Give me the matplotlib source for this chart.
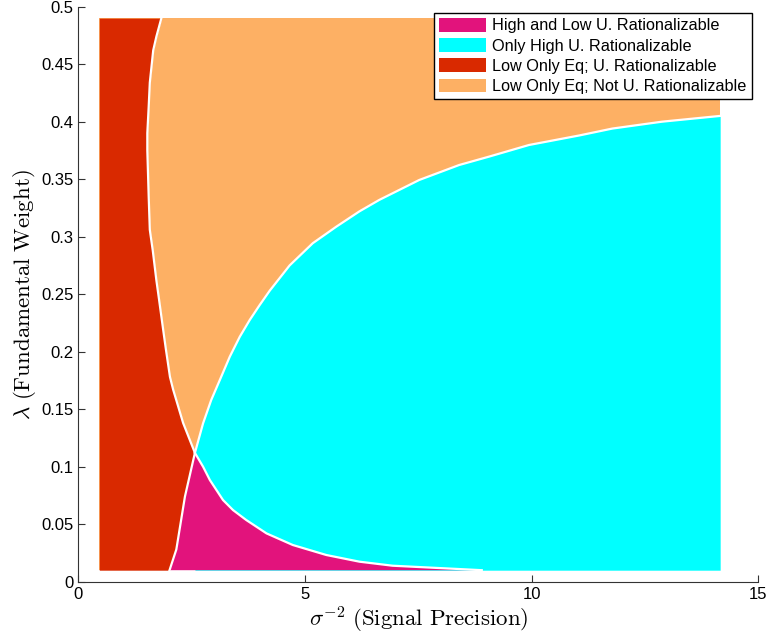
import matplotlib
matplotlib.use('Agg')
import matplotlib.pyplot as plt
from matplotlib.patches import Patch
import numpy as np

plt.rcParams['font.family'] = ['Liberation Sans', 'DejaVu Sans']
plt.rcParams['mathtext.fontset'] = 'cm'

# extent of the computed grid
x_min, x_max = 0.46, 14.16
y_min, y_max = 0.01, 0.49

# boundary of the red region (x as a function of lambda), top to bottom
red_y = [0.49, 0.474, 0.462, 0.434, 0.413, 0.39, 0.375, 0.335, 0.306, 0.288, 0.262, 0.245,
         0.219, 0.202, 0.178, 0.167, 0.138, 0.112, 0.074, 0.028, 0.01]
red_x = [1.83, 1.72, 1.65, 1.575, 1.55, 1.52, 1.52, 1.55, 1.575, 1.64, 1.72, 1.78,
         1.87, 1.93, 2.02, 2.09, 2.31, 2.57, 2.35, 2.16, 2.01]

# upper boundary of the cyan region
cyan_x = [2.57, 2.75, 2.93, 3.12, 3.34, 3.56, 3.78, 4.0, 4.22, 4.66, 5.17, 5.69, 6.2, 6.64, 7.52,
          8.40, 9.06, 9.94, 11.05, 11.78, 12.88, 14.16]
cyan_y = [0.112, 0.1377, 0.158, 0.1754, 0.1957, 0.213, 0.2276, 0.2406, 0.253, 0.275, 0.2943, 0.3087,
          0.322, 0.332, 0.3493, 0.3623, 0.3696, 0.3797, 0.388, 0.394, 0.400, 0.405]

# magenta / cyan boundary
mag_x = [2.57, 2.75, 2.90, 3.19, 3.41, 3.70, 4.15, 4.73, 5.47, 6.20, 6.93, 8.40, 8.9]
mag_y = [0.112, 0.1, 0.0884, 0.071, 0.0623, 0.0537, 0.042, 0.0319, 0.0232, 0.0174, 0.0139, 0.011, 0.01]

labels = ['High and Low U. Rationalizable', 'Only High U. Rationalizable',
          'Low Only Eq; U. Rationalizable', 'Low Only Eq; Not U. Rationalizable']
colors = ['#E2137C', '#00FFFF', '#D92900', '#FDB064']

fig = plt.figure(figsize=(7.69, 6.34), dpi=100)
ax = fig.add_axes([0.102, 0.0825, 0.884, 0.907])

# orange background of the grid
ax.fill_between([x_min, x_max], y_min, y_max, color=colors[3], lw=0)
# cyan
ax.fill_between(cyan_x, y_min, cyan_y, color=colors[1], lw=0)
# magenta: down curve, along the bottom, back up the red edge
k = red_y.index(0.112)
poly_x = mag_x + red_x[:k - 1:-1]
poly_y = mag_y + red_y[:k - 1:-1]
ax.fill(poly_x, poly_y, color=colors[0], lw=0)
# red
ax.fill_betweenx(red_y, x_min, red_x, color=colors[2], lw=0)

# white borders
for xs, ys in [(red_x, red_y), (cyan_x, cyan_y), (mag_x, mag_y)]:
    ax.plot(xs, ys, color='white', lw=1.6, solid_joinstyle='round')

ax.set_xlim(0, 15)
ax.set_ylim(0, 0.5)
ax.set_xticks([0, 5, 10, 15])
ax.set_yticks(np.arange(0, 0.51, 0.05))
ax.set_yticklabels(['0', '0.05', '0.1', '0.15', '0.2', '0.25', '0.3', '0.35', '0.4', '0.45', '0.5'])
ax.tick_params(direction='in', length=5, width=0.8, labelsize=12, color='#333333')
for s in ['top', 'right']:
    ax.spines[s].set_visible(False)
for s in ['left', 'bottom']:
    ax.spines[s].set_color('#333333')

ax.set_xlabel(r'$\sigma^{-2}\ \mathrm{(Signal\ Precision)}$', fontsize=16.5, labelpad=2)
ax.set_ylabel(r'$\lambda\ \mathrm{(Fundamental\ Weight)}$', fontsize=16.5, labelpad=2)

handles = [Patch(facecolor=c, edgecolor='none') for c in colors]
leg = ax.legend(handles, labels, loc='upper right', fontsize=11.7, fancybox=False,
                edgecolor='black', framealpha=1, handlelength=2.9, handleheight=0.9,
                handletextpad=0.4, labelspacing=0.3, borderaxespad=0.4, borderpad=0.3)
leg.get_frame().set_linewidth(1.0)

fig.savefig('out.png', dpi=100)
